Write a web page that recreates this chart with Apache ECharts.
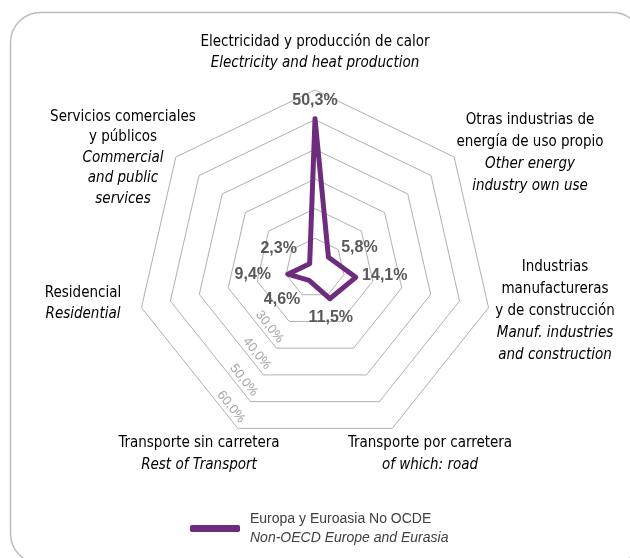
<!DOCTYPE html>
<html>
<head>
<meta charset="utf-8">
<script src="https://cdn.jsdelivr.net/npm/echarts@6/dist/echarts.min.js"></script>
<style>
  html, body { margin: 0; padding: 0; background: #ffffff; }
  #chart { width: 630px; height: 558px; }
</style>
</head>
<body>
<div id="chart"></div>
<script>
// Sectors in the order the radar lays them out: from the top, counter-clockwise.
const sectorsEs = [
  'Electricidad y producción de calor',
  'Servicios comerciales\ny públicos',
  'Residencial',
  'Transporte sin carretera',
  'Transporte por carretera',
  'Industrias\nmanufactureras\ny de construcción',
  'Otras industrias de\nenergía de uso propio'
];
const sectorsEn = [
  'Electricity and heat production',
  'Commercial\nand public\nservices',
  'Residential',
  'Rest of Transport',
  'of which: road',
  'Manuf. industries\nand construction',
  'Other energy\nindustry own use'
];
// Share of CO2 emissions by sector (%)
const shares = [50.3, 2.3, 9.4, 4.6, 11.5, 14.1, 5.8];
const axisMin = 0;
const axisMax = 60;
// Rings that carry a printed value
const tickValues = [30, 40, 50, 60];
const seriesNameEs = 'Europa y Euroasia No OCDE';
const seriesNameEn = 'Non-OECD Europe and Eurasia';

// ---- presentation ----
const PURPLE = '#6e2c7f';
const TEXT = '#404040';
const NARROW = "'DejaVu Sans Condensed', 'Liberation Sans Narrow', sans-serif";
const SANS = "'Liberation Sans', Arial, sans-serif";
const CX = 315, CY = 268, RADIUS = 178;

// Sector caption blocks: centre x, centre y of the first line, line height
const nameLayout = [
  [315, 42, 21.5],
  [123, 117, 20.5],
  [83, 293, 21],
  [199, 443, 22],
  [430, 443, 22],
  [555, 267, 22],
  [530, 120, 22]
];
// Value label centre relative to its vertex
const valueLabelOffset = [
  [0, -18], [-31, -15], [-35, 0], [-27, 19], [1, 19], [29, -2], [31, -10]
];

const fmtPct = v => v.toFixed(1).replace('.', ',') + '%';

const chart = echarts.init(document.getElementById('chart'), null, { renderer: 'canvas' });

chart.setOption({
  animation: false,
  backgroundColor: '#ffffff',
  radar: {
    center: [CX, CY],
    radius: RADIUS,
    startAngle: 90,
    splitNumber: 6,
    shape: 'polygon',
    indicator: sectorsEs.map(n => ({ name: n, min: axisMin, max: axisMax })),
    axisName: { show: false },
    axisLine: { show: false },
    axisTick: { show: false },
    axisLabel: { show: false },
    splitArea: { show: false },
    splitLine: { lineStyle: { color: '#b0b0b0', width: 1 } }
  },
  legend: {
    left: 185,
    top: 507,
    icon: 'roundRect',
    itemWidth: 50,
    itemHeight: 7,
    data: [seriesNameEs],
    formatter: n => '{a|' + n + '}\n{b|' + seriesNameEn + '}',
    textStyle: {
      rich: {
        a: { fontFamily: SANS, fontSize: 14, color: TEXT, lineHeight: 19, padding: [0, 0, 0, 5] },
        b: { fontFamily: SANS, fontSize: 14, color: TEXT, lineHeight: 19, fontStyle: 'italic', padding: [0, 0, 0, 5] }
      }
    }
  },
  series: [{
    type: 'radar',
    name: seriesNameEs,
    symbol: 'circle',
    symbolSize: 1,
    itemStyle: { color: PURPLE },
    lineStyle: { color: PURPLE, width: 5, join: 'round', cap: 'round' },
    label: {
      show: true,
      formatter: p => fmtPct(Array.isArray(p.value) ? p.value[0] : p.value),
      fontFamily: SANS,
      fontWeight: 'bold',
      fontSize: 16,
      color: '#595959'
    },
    labelLayout: function (p) {
      const r = p.rect;
      const px = r.x + r.width / 2, py = r.y + r.height / 2;
      const ang = Math.atan2(-(py - CY), px - CX);
      let k = Math.round((ang - Math.PI / 2) / (2 * Math.PI / shares.length));
      k = ((k % shares.length) + shares.length) % shares.length;
      const o = valueLabelOffset[k];
      return { x: px + o[0], y: py + o[1], align: 'center', verticalAlign: 'middle' };
    },
    data: [{ name: seriesNameEs, value: shares }]
  }]
});

// Position of a value on a sector's axis, taken from the radar coordinate system
function axisPoint(value, idx) {
  const radarModel = chart.getModel().getComponent('radar');
  const cs = radarModel && radarModel.coordinateSystem;
  if (cs && cs.dataToPoint) return cs.dataToPoint(value, idx);
  const a = Math.PI / 2 + idx * 2 * Math.PI / shares.length;
  const rr = (value - axisMin) / (axisMax - axisMin) * RADIUS;
  return [CX + rr * Math.cos(a), CY - rr * Math.sin(a)];
}

const graphics = [];

// Rounded frame
graphics.push({
  type: 'rect',
  silent: true,
  shape: { x: 10.5, y: 12.5, width: 632, height: 551, r: 30 },
  style: { fill: 'none', stroke: '#bdbdbd', lineWidth: 1.5 }
});

// Sector captions: Spanish on top, English in italics below
sectorsEs.forEach((es, i) => {
  const [x, y, lh] = nameLayout[i];
  const lines = es.split('\n').map(s => '{es|' + s + '}')
    .concat(sectorsEn[i].split('\n').map(s => '{en|' + s + '}'));
  graphics.push({
    type: 'text',
    silent: true,
    x: x,
    y: y - lh / 2,
    style: {
      text: lines.join('\n'),
      align: 'center',
      verticalAlign: 'top',
      rich: {
        es: { fontFamily: NARROW, fontSize: 15, color: TEXT, lineHeight: lh, align: 'center' },
        en: { fontFamily: NARROW, fontSize: 15, color: TEXT, lineHeight: lh, fontStyle: 'italic', align: 'center' }
      }
    }
  });
});

// Ring values written along the lower-left edge of each ring
const EDGE_A = 3, EDGE_B = 2;
tickValues.forEach(v => {
  const pA = axisPoint(v, EDGE_A);
  const pB = axisPoint(v, EDGE_B);
  const dx = pB[0] - pA[0], dy = pB[1] - pA[1];
  const len = Math.hypot(dx, dy);
  const ux = dx / len, uy = dy / len;
  let nx = -uy, ny = ux;
  if ((CX - pA[0]) * nx + (CY - pA[1]) * ny < 0) { nx = -nx; ny = -ny; }
  graphics.push({
    type: 'text',
    silent: true,
    x: pA[0] + ux * 21 + nx * 8,
    y: pA[1] + uy * 21 + ny * 8,
    rotation: -Math.atan2(pA[1] - pB[1], pA[0] - pB[0]),
    style: {
      text: fmtPct(v),
      fontFamily: SANS,
      fontSize: 13,
      fill: '#a6a6a6',
      align: 'center',
      verticalAlign: 'middle'
    }
  });
});

chart.setOption({ graphic: graphics });
</script>
</body>
</html>
